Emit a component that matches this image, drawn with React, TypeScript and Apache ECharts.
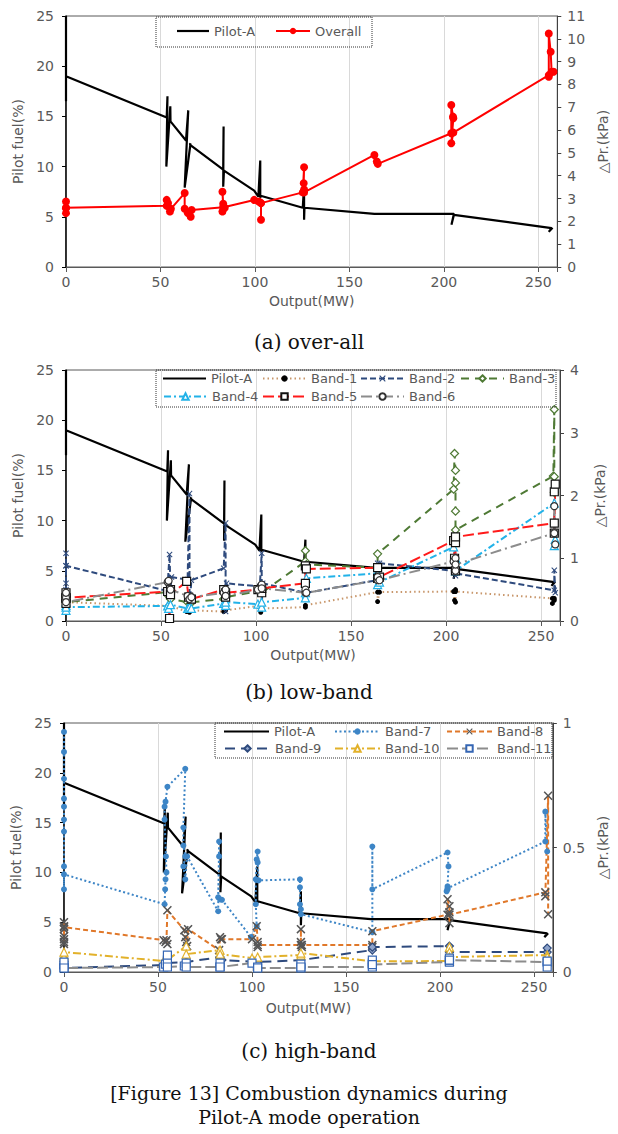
import React, { useEffect, useRef } from "react";
import * as echarts from "echarts";

type P = [number, number];

// ---------- data (x = Output MW, y = Pilot fuel % or ΔPr kPa) ----------
const xTicks = [0, 50, 100, 150, 200, 250];

const pilotA: P[] = [
  [0, 25], [0, 16.5], [0, 19],
  [53.3, 14.9], [53.7, 17], [53.1, 10], [55.2, 16], [55.3, 14.5],
  [63.5, 12.6], [64.7, 15.6], [62.8, 7.9], [65.9, 12.3], [65.5, 12.2],
  [83.2, 9.7], [83.4, 14], [83.2, 8], [83.6, 9.6],
  [99.6, 7.6], [101.8, 7], [102.8, 10.6], [102.8, 6.9], [103, 7.1],
  [125.3, 5.9], [126, 8.1], [126, 4.7], [126.2, 5.9],
  [163.2, 5.3], [205.3, 5.3], [204, 4.2], [205.3, 5.2],
  [257, 3.87], [255.5, 3.5], [257.5, 3.9],
];

const overall: P[] = [
  [0, 2.58], [0, 2.87], [0, 2.36], [0, 2.6],
  [53.3, 2.68], [53.3, 2.94], [54, 2.8], [55, 2.43], [55.5, 2.55],
  [62.8, 3.24], [62.8, 2.55], [64.5, 2.36], [66, 2.2], [66.5, 2.5],
  [83.2, 2.62], [82.8, 3.3], [83.2, 2.77], [84, 2.6], [82.8, 2.43], [83.5, 2.62],
  [99.6, 2.94], [102, 2.87], [103.2, 2.8], [103.2, 2.07], [103.2, 2.8],
  [125.3, 3.27], [126, 4.37], [125.8, 3.67], [126, 3.4], [126, 3.27],
  [163.2, 4.91], [164.5, 4.62], [165, 4.52],
  [203.9, 5.86], [203.9, 7.1], [204.8, 6.59], [205, 6.52], [203.9, 5.42], [205, 5.89],
  [255.5, 8.41], [255.5, 10.23], [256.5, 9.43], [257, 8.56], [255.5, 8.34], [258, 8.56],
];

// low band (kPa)
const band1: P[] = [
  [0, 0.3], [0, 0.27], [0, 0.33], [0, 0.3], [53.5, 0.24], [54, 0.2], [55, 0.24],
  [63.5, 0.15], [65, 0.14], [66, 0.17], [83, 0.15], [83.5, 0.2], [84, 0.17],
  [101, 0.24], [102.5, 0.14], [103, 0.2], [126, 0.22], [126, 0.25],
  [164, 0.46], [164, 0.31], [165, 0.46], [204, 0.47], [204.5, 0.33], [205, 0.3], [205, 0.5], [205, 0.47],
  [256, 0.36], [256, 0.28], [257, 0.33], [257, 0.36],
];
const band2: P[] = [
  [0, 0.88], [0, 1.08], [0, 0.5], [0, 0.6], [0, 0.88],
  [53.3, 0.48], [54.5, 1.06], [55, 0.5], [55.5, 0.7],
  [64, 0.66], [65, 2.03], [65, 0.23], [66, 0.65],
  [83, 0.84], [84, 1.56], [84, 0.15], [84.5, 0.6],
  [102, 0.55], [103, 1.08], [103, 0.2], [103.5, 0.6],
  [126, 0.45], [126.5, 0.6], [126.5, 0.45],
  [163.5, 0.65], [164, 0.92], [165, 0.92],
  [204, 0.8], [205, 0.85], [205, 0.72], [205, 0.76],
  [257, 0.49], [257, 0.81], [257.5, 0.45],
];
const band3: P[] = [
  [0, 0.33], [0, 0.38], [0, 0.3], [53.5, 0.46], [54, 0.4], [55, 0.35],
  [64, 0.3], [65.5, 0.28], [66, 0.3], [83, 0.35], [84, 0.42], [84, 0.38],
  [102, 0.48], [103, 0.52], [103, 0.45], [126, 0.95], [126, 1.12], [126.5, 0.9],
  [164, 0.85], [164, 1.07], [204, 2.1], [204.5, 2.67], [205, 2.4], [205, 2.2], [205, 1.75], [205, 1.45],
  [256.5, 2.31], [257, 3.37], [257, 2.05], [257, 2.3],
];
const band4: P[] = [
  [0, 0.25], [0, 0.17], [0, 0.3], [0, 0.22], [53.5, 0.24], [54, 0.2], [55, 0.26],
  [64, 0.2], [65, 0.22], [66, 0.2], [83, 0.28], [84, 0.25], [84, 0.3],
  [101, 0.27], [103, 0.22], [103, 0.3], [126, 0.37], [126, 0.45], [126.5, 0.68],
  [164, 0.76], [164, 0.58], [165, 0.62], [204, 1.18], [205, 1.0], [205, 0.8],
  [257, 1.88], [257, 1.2], [257.5, 1.3],
];
const band5: P[] = [
  [0, 0.37], [0, 0.28], [0, 0.45], [0, 0.37], [53.5, 0.47], [54.5, 0.04], [55, 0.5], [55, 0.42],
  [63.5, 0.63], [64.5, 0.38], [66, 0.35], [83, 0.5], [84, 0.38], [84, 0.45],
  [101, 0.5], [103, 0.45], [103, 0.52], [126, 0.6], [126, 0.88], [126.5, 0.83],
  [164, 0.85], [164, 0.68], [165, 0.7], [204, 1.28], [204.5, 1.0], [205, 0.8], [205, 1.25], [205, 1.34],
  [257, 1.56], [257, 2.06], [257.5, 2.18], [257, 1.4],
];
const band6: P[] = [
  [0, 0.37], [0, 0.45], [0, 0.3], [53.5, 0.62], [54, 0.64], [55, 0.5],
  [64, 0.4], [65, 0.35], [66, 0.38], [83, 0.45], [84, 0.5], [84, 0.4],
  [101, 0.5], [103, 0.58], [103, 0.52], [126, 0.45], [126, 0.5], [126.5, 0.45],
  [164, 0.65], [164, 0.7], [165, 0.65], [204, 0.95], [205, 1.0], [205, 0.8], [205, 0.9],
  [257, 1.4], [257, 1.83], [257.5, 1.22], [257, 1.4],
];

// high band (kPa)
const band7: P[] = [
  [0, 0.964], [0, 0.884], [0, 0.776], [0, 0.696], [0, 0.664], [0, 0.612], [0, 0.564], [0, 0.424], [0, 0.332], [0, 0.392],
  [53.5, 0.272], [53.8, 0.332], [54, 0.372], [54.5, 0.4], [54.2, 0.464], [53.5, 0.612], [53.5, 0.664], [54, 0.684], [55, 0.744],
  [64.5, 0.816], [63.5, 0.58], [63.5, 0.508], [64.5, 0.464], [63.5, 0.424], [64.5, 0.372], [65.5, 0.464],
  [82, 0.244], [82.5, 0.524], [82.5, 0.464], [82, 0.3], [83, 0.292], [84, 0.29],
  [99.5, 0.14], [102.5, 0.184], [102, 0.272], [102, 0.372], [102.5, 0.452], [103, 0.484], [103, 0.44], [103.5, 0.368],
  [125.5, 0.372], [125.5, 0.34], [125.5, 0.272], [126, 0.252], [126, 0.232],
  [164, 0.16], [164, 0.504], [164, 0.332],
  [204, 0.48], [204.5, 0.424], [204, 0.344], [204, 0.332], [203.5, 0.324], [204, 0.336],
  [256, 0.524], [256, 0.644], [257, 0.484],
];
const band8: P[] = [
  [0, 0.2], [0, 0.112], [0, 0.132], [0, 0.144], [0, 0.12], [0, 0.172], [0, 0.184], [0, 0.18],
  [53, 0.128], [54, 0.12], [55, 0.112], [54.5, 0.128], [55, 0.248],
  [64, 0.168], [64.5, 0.14], [65, 0.12], [65.5, 0.104], [66, 0.172],
  [82.5, 0.088], [83, 0.14], [83.5, 0.132], [84, 0.132],
  [100, 0.132], [102.5, 0.184], [103, 0.12], [103, 0.1], [103, 0.108],
  [126, 0.108], [126, 0.172], [126, 0.12], [126.5, 0.1], [126.5, 0.108],
  [164, 0.108], [164, 0.1], [164, 0.164],
  [204, 0.23], [204, 0.292], [205, 0.264], [205, 0.24], [205, 0.196], [205, 0.23],
  [256, 0.32], [256, 0.304], [257.5, 0.708], [257.5, 0.232],
];
const band9: P[] = [
  [0, 0.016], [0, 0.032], [0, 0.016], [53, 0.028], [55, 0.036], [65, 0.04], [83, 0.06], [84, 0.048],
  [103, 0.04], [126, 0.048], [164, 0.088], [164, 0.1], [205, 0.104], [205, 0.08], [257, 0.08], [257, 0.096],
];
const band10: P[] = [
  [0, 0.068], [0, 0.06], [0, 0.08], [53, 0.044], [55, 0.048], [65, 0.104], [65, 0.072],
  [83, 0.088], [83, 0.072], [100, 0.056], [103, 0.06], [126, 0.068], [126, 0.076],
  [164, 0.043], [205, 0.044], [205, 0.1], [205, 0.08], [205, 0.06], [257, 0.068], [257, 0.06],
];
const band11: P[] = [
  [0, 0.016], [0, 0.028], [0, 0.04], [0, 0.016], [53, 0.02], [54, 0.032], [55, 0.048], [55, 0.068], [55, 0.02],
  [64, 0.024], [65, 0.036], [65, 0.02], [83, 0.02], [83, 0.036], [83, 0.02], [100, 0.036], [103, 0.02], [103, 0.016],
  [126, 0.016], [126, 0.032], [126, 0.02], [164, 0.02], [164, 0.036], [164, 0.048], [164, 0.03],
  [205, 0.04], [205, 0.048], [205, 0.056], [205, 0.048], [257, 0.04], [257, 0.02], [257, 0.044],
];

const leftAxis = { max: 25, interval: 5 };
const rightAxes = [
  { max: 11, interval: 1 },
  { max: 4, interval: 1 },
  { max: 1, interval: 0.5 },
];
const captions = ["(a) over-all", "(b) low-band", "(c) high-band"];
const figCaption = ["[Figure 13] Combustion dynamics during", "Pilot-A mode operation"];

// ---------- styling / layout ----------
const FONT = "'DejaVu Sans', 'Noto Sans', sans-serif";
const TXT = "#595959";
const XPATH = "path://M0,1.2L1.2,0L5,3.8L8.8,0L10,1.2L6.2,5L10,8.8L8.8,10L5,6.2L1.2,10L0,8.8L3.8,5Z";

const grids = [
  { left: 66, top: 16, width: 494, height: 251 },
  { left: 66, top: 370, width: 494, height: 251 },
  { left: 64, top: 723, width: 492, height: 249 },
];
const captionY = [342, 692, 1051];

function mkSeries(
  name: string, data: P[], gi: number, right: boolean, color: string, dash: any,
  symbol: string, size: number, fill: string, border: string, width = 2
) {
  return {
    type: "line", name, data,
    xAxisIndex: gi, yAxisIndex: gi * 2 + (right ? 1 : 0),
    symbol, symbolSize: size, showSymbol: symbol !== "none",
    lineStyle: { color, width, type: dash },
    itemStyle: { color: fill, borderColor: border, borderWidth: border === "none" ? 0 : 1.2 },
    clip: true, z: 3,
  };
}

function buildOption() {
  const xAxis = grids.map((_, i) => ({
    gridIndex: i, type: "value", min: 0, max: 260, interval: 50,
    name: "Output(MW)", nameLocation: "middle", nameGap: i === 2 ? 29 : 27,
    nameTextStyle: { color: TXT, fontSize: 14, fontFamily: FONT },
    axisLine: { show: true, onZero: false, lineStyle: { color: "#595959", width: 1 } },
    axisTick: { show: true, length: 5, lineStyle: { color: "#595959" } },
    axisLabel: {
      color: TXT, fontSize: 14, fontFamily: FONT, margin: 8,
      formatter: (v: number) => (xTicks.includes(v) ? String(v) : ""),
    },
    splitLine: { show: true, lineStyle: { color: "#d9d9d9", width: 1 } },
  }));
  const yAxis: any[] = [];
  grids.forEach((_, i) => {
    yAxis.push({
      gridIndex: i, type: "value", position: "left", min: 0, max: leftAxis.max, interval: leftAxis.interval,
      name: "Pilot fuel(%)", nameLocation: "middle", nameRotate: 90, nameGap: 38,
      nameTextStyle: { color: TXT, fontSize: 14, fontFamily: FONT },
      axisLine: { show: true, onZero: false, lineStyle: { color: "#000", width: 1.5 } },
      axisTick: { show: true, length: 4, lineStyle: { color: "#000" } },
      axisLabel: { color: TXT, fontSize: 14, fontFamily: FONT, margin: 12 },
      splitLine: { show: false },
    });
    yAxis.push({
      gridIndex: i, type: "value", position: "right", min: 0, max: rightAxes[i].max, interval: rightAxes[i].interval,
      name: "△Pr.(kPa)", nameLocation: "middle", nameRotate: 90, nameGap: i === 0 ? 31 : 33,
      nameTextStyle: { color: TXT, fontSize: 14, fontFamily: FONT },
      axisLine: { show: true, onZero: false, lineStyle: { color: "#404040", width: 1 } },
      axisTick: { show: true, length: 4, lineStyle: { color: "#404040" } },
      axisLabel: { color: TXT, fontSize: 14, fontFamily: FONT, margin: 10 },
      splitLine: { show: false },
    });
  });

  const K = "#000";
  const series: any[] = [];
  // grid 0
  series.push(mkSeries("Pilot-A", pilotA, 0, false, K, "solid", "none", 0, K, "none", 2.2));
  series.push(mkSeries("Overall", overall, 0, true, "#ff0000", "solid", "circle", 8, "#ff0000", "none", 2));
  // grid 1
  series.push(mkSeries("Pilot-A", pilotA, 1, false, K, "solid", "none", 0, K, "none", 2.2));
  series.push(mkSeries("Band-1", band1, 1, true, "#c8966a", [1.5, 3], "circle", 5, "#000", "none"));
  series.push(mkSeries("Band-2", band2, 1, true, "#2e4a7d", [6, 3], XPATH, 6, "#2e4a7d", "none"));
  series.push(mkSeries("Band-3", band3, 1, true, "#4f7a35", [8, 6], "diamond", 8, "#fff", "#4f7a35"));
  series.push(mkSeries("Band-4", band4, 1, true, "#22b2e8", [7, 3, 2, 3], "triangle", 8, "#fff", "#22b2e8"));
  series.push(mkSeries("Band-5", band5, 1, true, "#ff1a1a", [11, 4], "rect", 8, "#fff", "#111"));
  series.push(mkSeries("Band-6", band6, 1, true, "#8c8c8c", [11, 4, 2, 4], "circle", 7, "#fff", "#333"));
  // grid 2
  series.push(mkSeries("Pilot-A", pilotA, 2, false, K, "solid", "none", 0, K, "none", 2.2));
  series.push(mkSeries("Band-7", band7, 2, true, "#3d85c6", [2, 2.5], "circle", 6, "#3d85c6", "none"));
  series.push(mkSeries("Band-8", band8, 2, true, "#e0782a", [5, 3], XPATH, 9, "#555", "none"));
  series.push(mkSeries("Band-9", band9, 2, true, "#2e4a7d", [10, 6], "diamond", 8, "#8ea4cc", "#2e4a7d"));
  series.push(mkSeries("Band-10", band10, 2, true, "#e2b12a", [8, 3, 2, 3], "triangle", 8, "#fff", "#e2b12a"));
  series.push(mkSeries("Band-11", band11, 2, true, "#8c8c8c", [11, 4], "rect", 8, "#fff", "#3566b4"));

  const legendItems: { name: string; x: number; y: number; w: number }[] = [
    { name: "Pilot-A", x: 177, y: 31.5, w: 32 },
    { name: "Overall", x: 275, y: 31.5, w: 34 },
    { name: "Pilot-A", x: 163, y: 379, w: 43 },
    { name: "Band-1", x: 262, y: 379, w: 43 },
    { name: "Band-2", x: 360, y: 379, w: 43 },
    { name: "Band-3", x: 460, y: 379, w: 43 },
    { name: "Band-4", x: 163, y: 397, w: 43 },
    { name: "Band-5", x: 262, y: 397, w: 43 },
    { name: "Band-6", x: 360, y: 397, w: 43 },
    { name: "Pilot-A", x: 224, y: 732, w: 45 },
    { name: "Band-7", x: 334, y: 732, w: 45 },
    { name: "Band-8", x: 446, y: 732, w: 45 },
    { name: "Band-9", x: 224, y: 749, w: 45 },
    { name: "Band-10", x: 334, y: 749, w: 45 },
    { name: "Band-11", x: 446, y: 749, w: 45 },
  ];
  const legend = legendItems.map((it) => {
    const isPilot = it.name === "Pilot-A";
    return {
      data: [isPilot ? { name: it.name, icon: "rect" } : it.name],
      left: it.x, top: it.y - 7, itemWidth: it.w, itemHeight: isPilot ? 2.2 : 8, itemGap: 0, padding: 0,
      selectedMode: false, textStyle: { color: TXT, fontSize: 13, fontFamily: FONT },
    };
  });

  const boxes = [
    { x: 156, y: 17, w: 216, h: 30 },
    { x: 156, y: 370, w: 400, h: 37 },
    { x: 215, y: 723, w: 337, h: 35 },
  ];
  const graphic: any[] = [];
  boxes.forEach((b) =>
    graphic.push({
      type: "rect", shape: { x: b.x, y: b.y, width: b.w, height: b.h },
      style: { fill: "none", stroke: "#333", lineWidth: 1, lineDash: [1, 1] }, z: 5, silent: true,
    })
  );
  captions.forEach((t, i) =>
    graphic.push({
      type: "text", x: 309, y: captionY[i],
      style: { text: t, textAlign: "center", textVerticalAlign: "middle", fontSize: 20, fontFamily: "'DejaVu Serif', serif", fill: "#111" },
    })
  );
  figCaption.forEach((t, i) =>
    graphic.push({
      type: "text", x: 309, y: 1093 + i * 24,
      style: { text: t, textAlign: "center", textVerticalAlign: "middle", fontSize: 19, fontFamily: "'DejaVu Serif', serif", fill: "#111" },
    })
  );

  return {
    animation: false,
    backgroundColor: "#fff",
    grid: grids.map((g) => ({ ...g, show: true, borderColor: "#595959", borderWidth: 1, backgroundColor: "transparent" })),
    xAxis, yAxis, series, legend, graphic,
  };
}

export default function App() {
  const ref = useRef<HTMLDivElement>(null);
  useEffect(() => {
    if (!ref.current) return;
    const chart = echarts.init(ref.current, null, { renderer: "svg" });
    chart.setOption(buildOption() as any);
    return () => chart.dispose();
  }, []);
  return (
    <div
      ref={ref}
      style={{ position: "absolute", left: 0, top: 0, width: 618, height: 1134, background: "#fff" }}
    />
  );
}
